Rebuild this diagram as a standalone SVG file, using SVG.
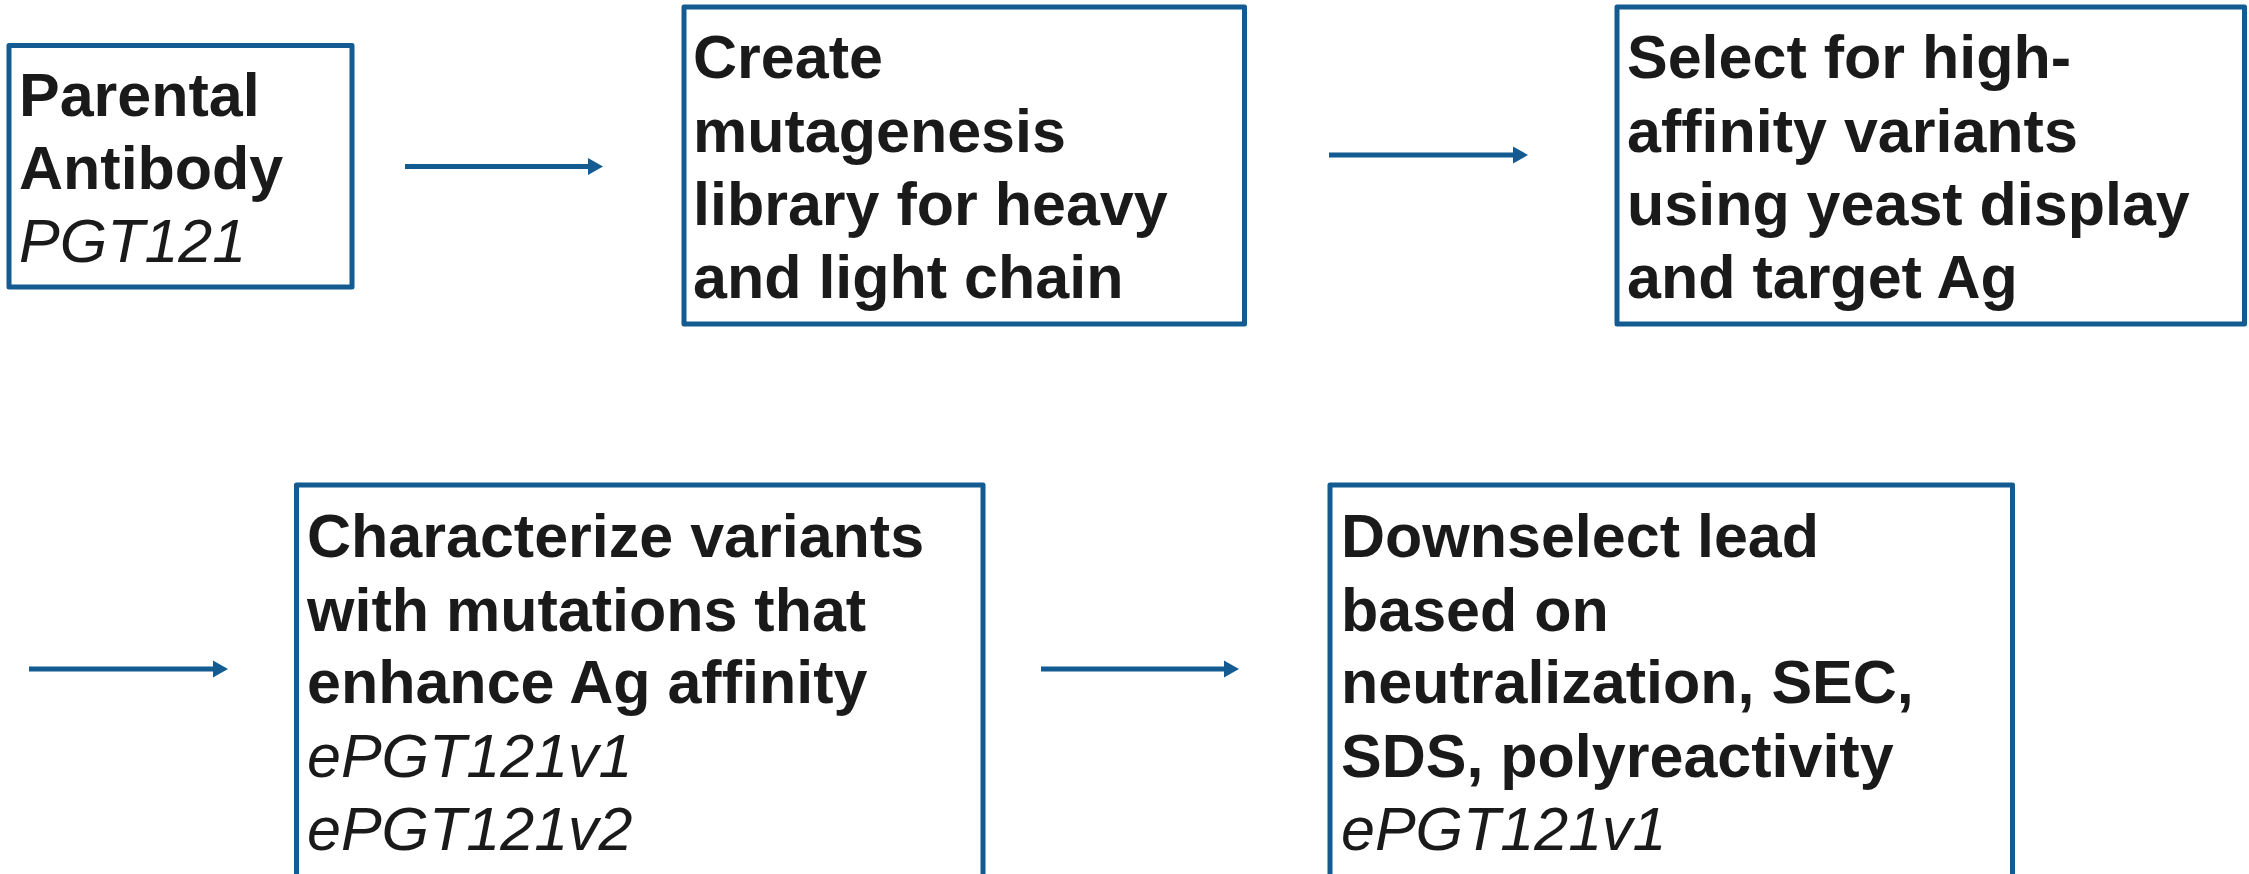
<svg xmlns="http://www.w3.org/2000/svg" width="2249" height="874" viewBox="0 0 2249 874">
  <style>
    .box { fill: #ffffff; stroke: #135b91; stroke-width: 5; stroke-linejoin: round; }
    .link { stroke: #135b91; stroke-width: 5; fill: none; }
    .head { fill: #135b91; }
    .t { font-family: "Liberation Sans", Arial, sans-serif; font-size: 61px; fill: #1a1a1a; }
    .b { font-weight: bold; }
    .i { font-style: italic; }
  </style>
  <rect width="2249" height="874" fill="#ffffff"/>

  <!-- process steps -->
  <g id="parental">
    <rect class="box" x="9" y="45.5" width="343" height="241.5"/>
    <text class="t b" x="19" y="116">Parental</text>
    <text class="t b" x="19" y="189">Antibody</text>
    <text class="t i" x="19" y="262">PGT121</text>
  </g>

  <g id="library">
    <rect class="box" x="684" y="7" width="560.5" height="317"/>
    <text class="t b" x="693" y="78">Create</text>
    <text class="t b" x="693" y="151.5">mutagenesis</text>
    <text class="t b" x="693" y="224.5">library for heavy</text>
    <text class="t b" x="693" y="298">and light chain</text>
  </g>

  <g id="select">
    <rect class="box" x="1617" y="7" width="627.5" height="317"/>
    <text class="t b" x="1627" y="78">Select for high-</text>
    <text class="t b" x="1627" y="151.5">affinity variants</text>
    <text class="t b" x="1627" y="224.5">using yeast display</text>
    <text class="t b" x="1627" y="298">and target Ag</text>
  </g>

  <g id="characterize">
    <rect class="box" x="296.5" y="485" width="686.5" height="430"/>
    <text class="t b" x="307" y="557">Characterize variants</text>
    <text class="t b" x="307" y="630.5">with mutations that</text>
    <text class="t b" x="307" y="703">enhance Ag affinity</text>
    <text class="t i" x="307" y="776.5">ePGT121v1</text>
    <text class="t i" x="307" y="850">ePGT121v2</text>
  </g>

  <g id="downselect">
    <rect class="box" x="1330" y="485" width="682.5" height="430"/>
    <text class="t b" x="1341" y="557">Downselect lead</text>
    <text class="t b" x="1341" y="630.5">based on</text>
    <text class="t b" x="1341" y="703">neutralization, SEC,</text>
    <text class="t b" x="1341" y="776.5">SDS, polyreactivity</text>
    <text class="t i" x="1341" y="850">ePGT121v1</text>
  </g>

  <!-- connectors -->
  <g id="connectors">
    <line class="link" x1="405" y1="166.5" x2="590" y2="166.5"/>
    <polygon class="head" points="588,158 603,166.5 588,175"/>

    <line class="link" x1="1329" y1="155" x2="1515" y2="155"/>
    <polygon class="head" points="1513,146.5 1528,155 1513,163.5"/>

    <line class="link" x1="29" y1="669" x2="215" y2="669"/>
    <polygon class="head" points="213,660.5 228,669 213,677.5"/>

    <line class="link" x1="1041" y1="669" x2="1226" y2="669"/>
    <polygon class="head" points="1224,660.5 1239,669 1224,677.5"/>
  </g>
</svg>
